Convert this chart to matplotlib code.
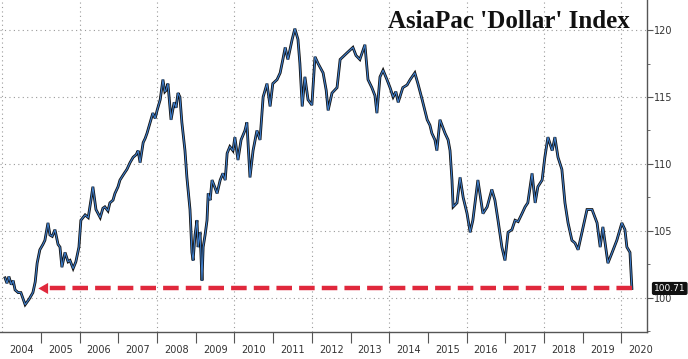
import matplotlib
matplotlib.use("Agg")
import matplotlib.pyplot as plt
from matplotlib.ticker import FixedLocator, MultipleLocator, NullFormatter

# ---- data (fractional year, index level) ----
years = [2004.07, 2004.12, 2004.17, 2004.23, 2004.28, 2004.33, 2004.41, 2004.48, 2004.59, 2004.69,
         2004.79, 2004.85, 2004.90, 2004.97, 2005.05, 2005.10, 2005.18, 2005.23, 2005.29, 2005.36,
         2005.44, 2005.49, 2005.54, 2005.62, 2005.70, 2005.75, 2005.83, 2005.90, 2005.98, 2006.03,
         2006.14, 2006.22, 2006.29, 2006.34, 2006.42, 2006.53, 2006.60, 2006.65, 2006.73, 2006.78,
         2006.86, 2006.91, 2006.99, 2007.04, 2007.15, 2007.22, 2007.30, 2007.38, 2007.46, 2007.51,
         2007.56, 2007.64, 2007.69, 2007.74, 2007.82, 2007.89, 2007.95, 2008.00, 2008.08, 2008.15,
         2008.20, 2008.23, 2008.28, 2008.36, 2008.44, 2008.49, 2008.54, 2008.59, 2008.64, 2008.72,
         2008.77, 2008.85, 2008.90, 2008.93, 2008.98, 2009.03, 2009.06, 2009.11, 2009.16, 2009.19,
         2009.24, 2009.29, 2009.32, 2009.37, 2009.42, 2009.50, 2009.55, 2009.63, 2009.70, 2009.76,
         2009.81, 2009.88, 2009.96, 2010.01, 2010.09, 2010.17, 2010.27, 2010.32, 2010.40, 2010.48,
         2010.58, 2010.66, 2010.74, 2010.84, 2010.92, 2010.99, 2011.10, 2011.18, 2011.25, 2011.31,
         2011.38, 2011.49, 2011.56, 2011.64, 2011.69, 2011.75, 2011.82, 2011.90, 2012.00, 2012.08,
         2012.16, 2012.29, 2012.37, 2012.42, 2012.52, 2012.65, 2012.73, 2012.91, 2013.06, 2013.14,
         2013.24, 2013.37, 2013.45, 2013.55, 2013.63, 2013.68, 2013.76, 2013.84, 2013.94, 2014.02,
         2014.10, 2014.17, 2014.23, 2014.35, 2014.46, 2014.54, 2014.66, 2014.74, 2014.85, 2014.98,
         2015.05, 2015.10, 2015.18, 2015.23, 2015.31, 2015.44, 2015.52, 2015.57, 2015.62, 2015.65,
         2015.75, 2015.83, 2015.91, 2016.01, 2016.09, 2016.16, 2016.29, 2016.42, 2016.53, 2016.65,
         2016.73, 2016.81, 2016.91, 2016.99, 2017.07, 2017.17, 2017.25, 2017.33, 2017.43, 2017.51,
         2017.58, 2017.69, 2017.77, 2017.84, 2017.95, 2018.02, 2018.10, 2018.21, 2018.28, 2018.36,
         2018.46, 2018.54, 2018.62, 2018.72, 2018.80, 2018.88, 2018.98, 2019.11, 2019.24, 2019.37,
         2019.45, 2019.52, 2019.65, 2019.76, 2019.88, 2020.01, 2020.09, 2020.14, 2020.22, 2020.27]
values = [101.5, 101.1, 101.6, 101.0, 101.3, 100.6, 100.4, 100.4, 99.5, 99.9,
          100.4, 101.2, 102.6, 103.6, 104.0, 104.3, 105.6, 104.7, 104.6, 105.1,
          104.0, 103.8, 102.3, 103.4, 102.7, 102.8, 102.2, 102.7, 103.8, 105.8,
          106.2, 106.0, 107.3, 108.3, 106.6, 106.0, 106.7, 106.8, 106.5, 107.1,
          107.3, 107.8, 108.3, 108.8, 109.3, 109.6, 110.1, 110.5, 110.7, 111.0,
          110.1, 111.6, 111.9, 112.3, 113.1, 113.8, 113.4, 114.0, 114.8, 116.3,
          115.4, 115.5, 116.0, 113.3, 114.6, 114.2, 115.3, 115.0, 113.1, 111.0,
          109.0, 106.6, 103.4, 102.8, 104.7, 105.8, 103.8, 104.9, 101.3, 103.8,
          104.7, 105.8, 107.8, 107.3, 108.8, 108.2, 107.8, 108.8, 109.3, 108.8,
          110.8, 111.3, 111.0, 112.0, 110.3, 111.8, 112.5, 113.1, 109.0, 111.0,
          112.5, 111.8, 115.0, 116.0, 114.3, 116.0, 116.3, 116.8, 117.8, 118.7,
          117.8, 119.3, 120.1, 119.3, 117.5, 114.3, 116.5, 114.8, 114.4, 118.0,
          117.5, 116.8, 115.5, 114.0, 115.3, 115.7, 117.8, 118.3, 118.7, 118.1,
          117.8, 118.9, 116.3, 115.7, 115.1, 113.8, 116.5, 117.0, 116.3, 115.7,
          115.0, 115.4, 114.6, 115.7, 115.9, 116.3, 116.8, 116.0, 114.8, 113.3,
          112.9, 112.3, 111.8, 111.0, 113.3, 112.3, 111.8, 111.0, 108.8, 106.8,
          107.1, 109.0, 107.5, 106.3, 104.9, 105.8, 108.8, 106.3, 106.8, 108.1,
          107.3, 105.8, 103.8, 102.8, 104.9, 105.1, 105.8, 105.7, 106.3, 106.8,
          107.1, 109.3, 107.1, 108.3, 108.8, 110.5, 112.0, 111.0, 112.0, 110.5,
          109.6, 107.1, 105.6, 104.3, 104.1, 103.6, 104.9, 106.6, 106.6, 105.6,
          103.8, 105.3, 102.6, 103.4, 104.3, 105.6, 105.1, 103.8, 103.4, 100.71]

year_labels = [str(y) for y in range(2004, 2021)]
y_ticks = [100, 105, 110, 115, 120]
last_value = 100.71
arrow_start_year = 2004.86
title = "AsiaPac 'Dollar' Index"

# ---- figure ----
fig = plt.figure(figsize=(6.88, 3.59), dpi=100)
ax = fig.add_axes([0.0, 0.0752, 0.9404, 0.9248])

ax.set_xlim(2003.94, 2020.66)
ax.set_ylim(97.46, 122.24)

# grid
for yv in y_ticks:
    ax.axhline(yv, color="#9a9a9a", lw=0.8, ls=(0, (1, 3)), zorder=0)
for xv in range(2004, 2021, 2):
    ax.axvline(xv, color="#9a9a9a", lw=0.8, ls=(0, (1, 3)), zorder=0)

# series: dark bars underneath, blue close line on top
ax.plot(years, values, color="#111111", lw=2.0, solid_joinstyle="miter", zorder=2)
ax.plot(years, values, color="#3d7cc9", lw=0.8, zorder=3)

# red dashed arrow
ax.plot([years[-1], arrow_start_year + 0.25], [last_value, last_value],
        color="#e0283c", lw=3.2, ls=(0, (3.5, 1.6)), solid_capstyle="butt", zorder=4)
ax.annotate("", xy=(arrow_start_year, last_value), xytext=(arrow_start_year + 0.35, last_value),
            arrowprops=dict(arrowstyle="-|>,head_length=0.7,head_width=0.4",
                            color="#e0283c", lw=0), zorder=4)

# spines
for s in ["top", "left"]:
    ax.spines[s].set_visible(False)
ax.spines["right"].set_color("#555555")
ax.spines["bottom"].set_color("#555555")
ax.spines["right"].set_linewidth(1.0)
ax.spines["bottom"].set_linewidth(1.0)

# y axis on right
ax.yaxis.tick_right()
ax.set_yticks(y_ticks)
ax.yaxis.set_minor_locator(MultipleLocator(2.5))
ax.tick_params(axis="y", which="major", direction="out", length=4, width=0.8,
               colors="#555555", labelsize=7, labelcolor="#333333", pad=1)
ax.tick_params(axis="y", which="minor", direction="out", length=2, width=0.6, colors="#555555")

# x axis: separators at year boundaries, labels centred in year
ax.xaxis.set_major_locator(FixedLocator(list(range(2005, 2021))))
ax.xaxis.set_major_formatter(NullFormatter())
ax.xaxis.set_minor_locator(FixedLocator([y + 0.5 for y in range(2004, 2021)]))
ax.set_xticklabels(year_labels, minor=True)
ax.tick_params(axis="x", which="major", direction="out", length=8, width=0.8, colors="#555555")
ax.tick_params(axis="x", which="minor", length=0, labelsize=7, labelcolor="#333333", pad=9)

# title
ax.text(0.974, 0.935, title, transform=ax.transAxes, ha="right", va="center",
        fontsize=18, fontweight="bold", family="Liberation Serif", color="#111111")

# last value label
ax.annotate(f"{last_value:.2f}", xy=(1.0, last_value), xycoords=("axes fraction", "data"),
            xytext=(5, 0), textcoords="offset points", ha="left", va="center",
            fontsize=6.5, color="white",
            bbox=dict(boxstyle="round,pad=0.15", fc="#111111", ec="#111111"))

fig.savefig("out.png", dpi=100)
